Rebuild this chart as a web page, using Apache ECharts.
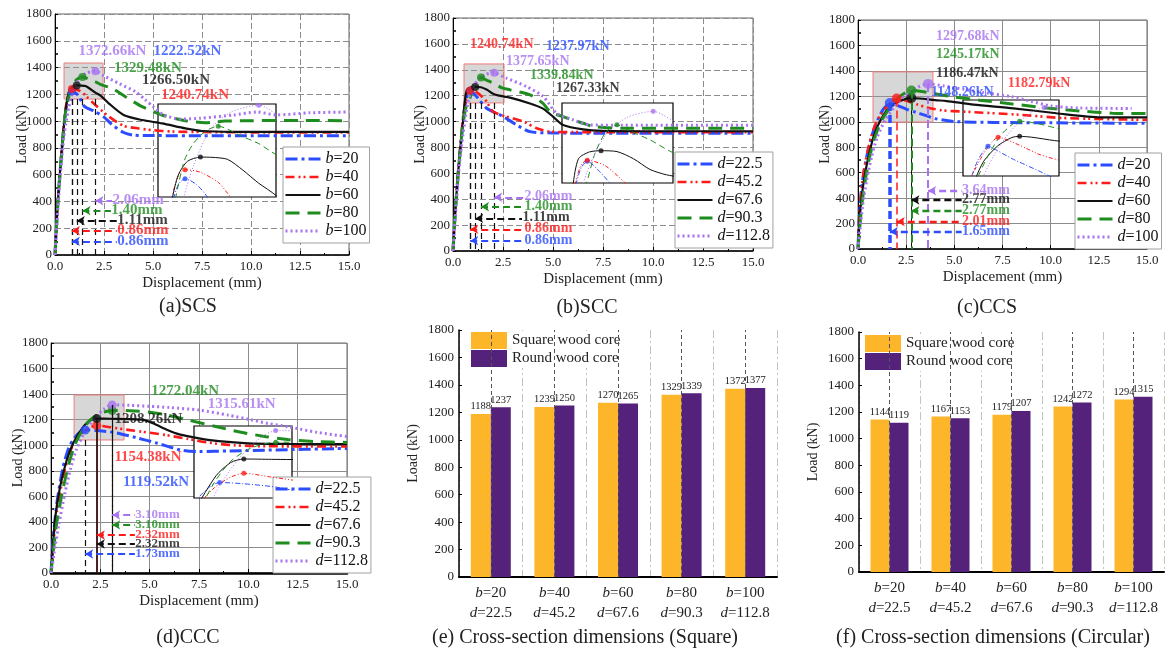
<!DOCTYPE html>
<html>
<head>
<meta charset="utf-8">
<script src="https://cdn.jsdelivr.net/npm/echarts@6/dist/echarts.min.js"></script>
<style>html,body{margin:0;padding:0;background:#fff}#chart{width:1165px;height:651px}</style>
</head>
<body>
<div id="chart"></div>
<script>
// ---------- (a) SCS : load-displacement curves, square steel tube / square core ----------
const namesA = ['b=20', 'b=40', 'b=60', 'b=80', 'b=100'];
const curveA1 = [[0,0],[0.05,150],[0.15,400],[0.25,600],[0.35,780],[0.45,950],[0.55,1080],[0.65,1170],[0.75,1210],[0.86,1222.52],[1.05,1210],[1.22,1185],[1.5,1110],[2.0,1075],[2.5,1030],[2.9,975],[3.5,915],[4.0,895],[5,892],[7.5,891],[10,890],[15,890]];
const curveA2 = [[0,0],[0.05,160],[0.15,420],[0.25,620],[0.35,800],[0.45,970],[0.55,1100],[0.65,1185],[0.75,1228],[0.86,1240.74],[1.1,1236],[1.4,1215],[1.6,1185],[2.06,1120],[2.74,1035],[3.5,965],[4.27,945],[4.95,933],[6,922],[8,918],[10,916],[15,915]];
const curveA3 = [[0,0],[0.05,150],[0.15,410],[0.25,610],[0.35,790],[0.45,960],[0.55,1090],[0.65,1180],[0.75,1230],[0.9,1258],[1.11,1266.50],[1.3,1266],[1.55,1262],[1.8,1240],[2.06,1213],[2.34,1188],[2.74,1133],[3.5,1046],[4.44,1008],[5.46,983],[6.65,946],[7.5,926],[9,920],[15,920]];
const curveA4 = [[0,0],[0.05,140],[0.15,400],[0.25,600],[0.35,780],[0.45,950],[0.55,1080],[0.71,1185],[0.85,1260],[1.0,1295],[1.2,1320],[1.40,1329.48],[1.8,1308],[2.06,1294],[2.34,1272],[2.91,1245],[3.59,1182],[4.44,1108],[5.46,1046],[6.65,1003],[7.67,988],[8.69,1000],[10,1003],[12.5,1005],[15,1003]];
const curveA5 = [[0,0],[0.05,120],[0.15,350],[0.25,560],[0.35,730],[0.45,880],[0.55,980],[0.7,1100],[0.84,1185],[1.0,1250],[1.27,1323],[1.6,1358],[2.06,1372.66],[2.57,1332],[3.25,1282],[4.1,1220],[4.6,1160],[5.0,1110],[5.5,1050],[6.4,1015],[7.4,1021],[9.1,1046],[10.3,1068],[11.3,1046],[13,1062],[15,1068]];
const peaksA = [[0.86,1222.52],[0.86,1240.74],[1.11,1266.50],[1.40,1329.48],[2.06,1372.66]];
const peakTextA = [[5.05,1518],[5.44,1190],[4.47,1299],[3.03,1394],[1.22,1518]];
const arrowYA = [102,181,256,331,405];
const arrowTextXA = [3.2,3.2,3.2,2.9,2.96];

// ---------- (b) SCC ----------
const namesB = ['d=22.5', 'd=45.2', 'd=67.6', 'd=90.3', 'd=112.8'];
const curveB1 = [[0,0],[0.05,150],[0.15,380],[0.25,580],[0.35,760],[0.45,930],[0.55,1070],[0.65,1170],[0.75,1220],[0.86,1237.97],[1.06,1213],[1.27,1177],[1.68,1103],[2.52,1038],[3.18,974],[3.85,922],[5,912],[7.5,910],[10,910],[15,909]];
const curveB2 = [[0,0],[0.05,160],[0.15,400],[0.25,600],[0.35,780],[0.45,950],[0.55,1090],[0.65,1180],[0.75,1228],[0.86,1240.74],[1.19,1225],[1.55,1177],[1.68,1154],[2.0,1077],[2.68,1038],[3.52,1000],[4.18,948],[4.85,922],[6,918],[15,918]];
const curveB3 = [[0,0],[0.05,150],[0.15,390],[0.25,590],[0.35,770],[0.5,1000],[0.6,1170],[0.7,1245],[0.9,1264],[1.11,1267.33],[1.4,1265],[1.7,1245],[2.0,1215],[2.3,1200],[2.85,1185],[3.85,1140],[4.5,1100],[5.0,1038],[5.5,974],[6.5,940],[7.5,928],[10,925],[15,925]];
const curveB4 = [[0,0],[0.05,140],[0.15,380],[0.25,580],[0.35,760],[0.5,980],[0.65,1110],[0.85,1180],[1.0,1260],[1.2,1320],[1.40,1339.84],[1.67,1320],[2.0,1298],[2.42,1262],[2.85,1245],[3.85,1206],[4.5,1141],[4.85,1077],[5.5,1038],[6.5,987],[7.0,962],[8.5,948],[15,948]];
const curveB5 = [[0,0],[0.05,120],[0.15,340],[0.25,540],[0.35,710],[0.5,900],[0.65,1060],[0.79,1177],[1.0,1260],[1.24,1320],[1.6,1362],[2.06,1377.65],[2.42,1352],[2.68,1335],[3.68,1270],[4.52,1192],[5.18,1064],[6.02,1012],[6.85,974],[8,972],[15,972]];
const peaksB = [[0.86,1237.97],[0.86,1240.74],[1.11,1267.33],[1.40,1339.84],[2.06,1377.65]];
const peakTextB = [[4.68,1579],[0.88,1592],[5.18,1250],[3.88,1352],[2.68,1463]];
const arrowYB = [80,168,252,342,415];
const arrowTextXB = [3.6,3.6,3.5,3.6,3.6];

// ---------- (c) CCS ----------
const namesC = ['d=20', 'd=40', 'd=60', 'd=80', 'd=100'];
const curveC1 = [[0,0],[0.05,200],[0.15,420],[0.3,600],[0.5,760],[0.7,880],[0.9,970],[1.1,1040],[1.3,1095],[1.5,1130],[1.65,1148.26],[2.0,1130],[2.5,1100],[3.0,1075],[3.5,1050],[4.0,1025],[5.0,1002],[7,995],[10,992],[15,988]];
const curveC2 = [[0,0],[0.05,200],[0.15,420],[0.3,610],[0.5,770],[0.7,890],[0.9,980],[1.2,1060],[1.5,1120],[1.8,1165],[2.01,1182.79],[2.5,1165],[3.0,1140],[3.5,1115],[4.35,1090],[5.5,1080],[8.4,1055],[10.6,1030],[15,1015]];
const curveC3 = [[0,0],[0.05,150],[0.15,350],[0.25,480],[0.4,620],[0.6,760],[0.8,880],[1.0,960],[1.2,1020],[1.5,1090],[2.0,1150],[2.5,1182],[2.77,1186.47],[3.2,1183],[4.0,1170],[4.6,1163],[6,1135],[8.06,1106],[10.3,1067],[12.6,1035],[15,1035]];
const curveC4 = [[0,0],[0.08,150],[0.2,350],[0.4,560],[0.6,720],[0.8,840],[1.0,930],[1.3,1030],[1.7,1120],[2.1,1190],[2.5,1232],[2.77,1245.17],[3.3,1238],[4,1220],[5,1195],[6.3,1170],[8,1140],[9.8,1108],[11.5,1085],[13.2,1068],[15,1064]];
const curveC5 = [[0,0],[0.1,150],[0.25,350],[0.45,540],[0.7,720],[1.0,880],[1.4,1010],[1.9,1120],[2.4,1200],[3.0,1265],[3.64,1297.68],[4.5,1280],[5.5,1255],[6.5,1230],[8,1197],[9,1160],[10,1125],[11.5,1108],[14.2,1105]];
const peaksC = [[1.65,1148.26],[2.01,1182.79],[2.77,1186.47],[2.77,1245.17],[3.64,1297.68]];
const peakTextC = [[3.82,1224],[7.8,1297],[4.08,1376],[4.08,1525],[4.08,1664]];
const arrowYC = [136,215,385,301,458];
const arrowTextXC = [5.43,5.43,5.43,5.43,5.43];

// ---------- (d) CCC ----------
const namesD = ['d=22.5', 'd=45.2', 'd=67.6', 'd=90.3', 'd=112.8'];
const curveD1 = [[0,0],[0.1,250],[0.3,550],[0.6,820],[0.9,980],[1.2,1060],[1.5,1105],[1.73,1119.52],[2.3,1115],[3.2,1100],[4.3,1060],[5.4,1015],[6.6,962],[7.5,950],[9,955],[11,962],[15,975]];
const curveD2 = [[0,0],[0.1,200],[0.3,480],[0.6,740],[0.9,920],[1.2,1030],[1.6,1100],[2.0,1140],[2.32,1154.38],[3.0,1140],[4.0,1118],[4.6,1106],[5.8,1080],[6.9,1050],[8,1020],[9.2,1000],[11,992],[15,990]];
const curveD3 = [[0,0],[0.05,100],[0.2,415],[0.46,675],[0.8,884],[1.13,1015],[1.64,1145],[2.0,1195],[2.32,1208.26],[3,1207],[4,1205],[4.7,1198],[5.2,1170],[5.9,1119],[6.5,1085],[7.5,1054],[8.5,1032],[10,1015],[12,1010],[15,1008]];
const curveD4 = [[0,0],[0.1,150],[0.3,400],[0.6,650],[0.9,850],[1.2,1000],[1.6,1120],[2.0,1200],[2.5,1250],[3.10,1272.04],[4.0,1270],[5.0,1258],[5.9,1236],[7,1195],[8.4,1145],[9.5,1105],[10.9,1067],[12,1045],[13.5,1028],[15,1022]];
const curveD5 = [[0,0],[0.15,150],[0.4,380],[0.7,620],[1.0,820],[1.3,970],[1.7,1100],[2.2,1210],[2.7,1285],[3.10,1315.61],[4,1312],[5,1305],[6,1295],[7.5,1275],[9,1235],[10.1,1200],[11,1170],[12,1145],[13.5,1100],[15,1068]];
const peaksD = [[1.73,1119.52],[2.32,1154.38],[2.32,1208.26],[3.10,1272.04],[3.10,1315.61]];
const peakTextD = [[3.67,710],[3.24,905],[3.24,1203],[5.1,1419],[7.97,1315]];
const arrowYD = [149,297,227,376,454];
const arrowTextXD = [4.3,4.3,4.3,4.3,4.3];

// ---------- (e)/(f) peak load comparison ----------
const bValues = ['20', '40', '60', '80', '100'];
const dValues = ['22.5', '45.2', '67.6', '90.3', '112.8'];
const squareCoreE = [1188, 1239, 1270, 1329, 1372];
const roundCoreE = [1237, 1250, 1265, 1339, 1377];
const squareCoreF = [1144, 1167, 1179, 1242, 1294];
const roundCoreF = [1119, 1153, 1207, 1272, 1315];

const yTicks = [0, 1800, 200];   // min, max, step of every load axis
const xTicks = [0, 15, 2.5];     // min, max, step of every displacement axis

// ---------- styling ----------
const SERIF = '"Liberation Serif","Times New Roman",serif';
const COLORS = ['#2b4cff', '#ff1a1a', '#111111', '#1f8c1f', '#a873f0'];
const DASH_MAIN = [[12, 4, 3, 4], [9, 4, 2, 3, 2, 4], 'solid', [14, 8], [2, 3]];
const WIDTH_MAIN = [3, 2.6, 2.2, 3, 3];
const DASH_INSET = [[5, 2, 1, 2], [4, 2, 1, 2, 1, 2], 'solid', [6, 4], [1, 2]];
const YELLOW = '#fdb62a';
const PURPLE = '#54217b';

const panels = [
  { names: namesA, curves: [curveA1, curveA2, curveA3, curveA4, curveA5], peaks: peaksA, peakText: peakTextA,
    arrowY: arrowYA, arrowTextX: arrowTextXA, caption: '(a)SCS', capPos: [188, 307],
    grid: { left: 55, top: 14, width: 294, height: 241 }, gridDash: [6, 3],
    inset: { left: 158, top: 104, width: 118, height: 93 }, insetX: [0.42, 2.34], insetY: [1185, 1375],
    shade: [[0.46, 1165], [2.45, 1434]], legend: { left: 283, top: 147 }, markerSize: 8,
    drop: k => ({ from: 1165, color: '#111', width: 1.2, type: [6, 4] }),
    arrowWidth: 2.2, labelSize: 15, arrowLabelSize: 15 },
  { names: namesB, curves: [curveB1, curveB2, curveB3, curveB4, curveB5], peaks: peaksB, peakText: peakTextB,
    arrowY: arrowYB, arrowTextX: arrowTextXB, caption: '(b)SCC', capPos: [587, 308],
    grid: { left: 453, top: 18, width: 300, height: 233 }, gridDash: [6, 3],
    inset: { left: 562, top: 103, width: 111, height: 80 }, insetX: [0.40, 2.42], insetY: [1177, 1401],
    shade: [[0.55, 1144], [2.55, 1445]], legend: { left: 675, top: 152 }, markerSize: 8,
    drop: k => ({ from: 1144, color: '#111', width: 1.2, type: [6, 4] }),
    arrowWidth: 2.2, labelSize: 14, arrowLabelSize: 14 },
  { names: namesC, curves: [curveC1, curveC2, curveC3, curveC4, curveC5], peaks: peaksC, peakText: peakTextC,
    arrowY: arrowYC, arrowTextX: arrowTextXC, caption: '(c)CCS', capPos: [987, 308],
    grid: { left: 858, top: 20, width: 289, height: 229 }, gridDash: 'solid',
    inset: { left: 963, top: 100, width: 96, height: 76 }, insetX: [0.77, 4.16], insetY: [1033, 1327],
    shade: [[0.78, 998], [3.89, 1392]], legend: { left: 1075, top: 153 }, markerSize: 10,
    drop: k => ({ from: null, color: COLORS[k], width: [3.5, 1.5, 1, 2, 2][k], type: [8, 4] }),
    arrowWidth: 2.4, labelSize: 14, arrowLabelSize: 14 },
  { names: namesD, curves: [curveD1, curveD2, curveD3, curveD4, curveD5], peaks: peaksD, peakText: peakTextD,
    arrowY: arrowYD, arrowTextX: arrowTextXD, caption: '(d)CCC', capPos: [188, 638],
    grid: { left: 51, top: 343, width: 296, height: 230 }, gridDash: 'solid',
    inset: { left: 194, top: 426, width: 98, height: 72 }, insetX: [1.1, 3.5], insetY: [1061, 1333],
    shade: [[1.17, 1041], [3.7, 1393]], legend: { left: 273, top: 477 }, markerSize: 9,
    drop: k => [
      { from: 1041, color: '#111', width: 1.2, type: [6, 4] },
      { from: null, color: COLORS[1], width: 1.5, type: 'solid' },
      { from: null, color: '#111', width: 1.5, type: 'solid' },
      { from: null, color: '#111', width: 1.2, type: [6, 4] },
      { from: null, color: '#111', width: 1.2, type: [6, 4] }][k],
    arrowWidth: 1.8, labelSize: 15, arrowLabelSize: 13 }
];

const grids = [], xAxes = [], yAxes = [], series = [], legends = [], graphics = [];

const legendRich = size => ({
  i: { fontFamily: SERIF, fontSize: size, fontStyle: 'italic', color: '#111' },
  n: { fontFamily: SERIF, fontSize: size, color: '#111' }
});
const italicName = n => { const p = n.split('='); return '{i|' + p[0] + '}{n|=' + p[1] + '}'; };

// main curve panels take grids 0..3, their insets 4..7
panels.forEach((p, gi) => {
  const ii = gi + 4;
  grids[gi] = Object.assign({ show: true, borderColor: '#666', borderWidth: 1 }, p.grid);
  grids[ii] = Object.assign({ show: true, backgroundColor: '#ffffff', borderColor: '#000', borderWidth: 1.2, z: 1 }, p.inset);

  xAxes[gi] = {
    gridIndex: gi, type: 'value', min: xTicks[0], max: xTicks[1], interval: xTicks[2],
    name: 'Displacement (mm)', nameLocation: 'middle', nameGap: 21, nameMoveOverlap: false,
    nameTextStyle: { fontFamily: SERIF, fontSize: 15, color: '#222' },
    axisLine: { onZero: false, lineStyle: { color: '#000', width: gi === 3 ? 2.5 : 1.5 } },
    axisTick: { inside: true, length: 4, lineStyle: { color: '#000' } },
    minorTick: { show: true, splitNumber: 2, length: 2, lineStyle: { color: '#000' } },
    axisLabel: { formatter: v => v.toFixed(1), fontFamily: SERIF, fontSize: 13, color: '#222', margin: 5 },
    splitLine: { show: true, lineStyle: { color: '#8c8c8c', width: 1, type: p.gridDash } }
  };
  yAxes[gi] = {
    gridIndex: gi, type: 'value', min: yTicks[0], max: yTicks[1], interval: yTicks[2],
    name: 'Load (kN)', nameLocation: 'middle', nameGap: 26, nameMoveOverlap: false,
    nameTextStyle: { fontFamily: SERIF, fontSize: 14, color: '#222' },
    axisLine: { onZero: false, lineStyle: { color: '#000', width: 1 } },
    axisTick: { inside: true, length: 3, lineStyle: { color: '#000' } },
    minorTick: { show: true, splitNumber: 2, length: 3, lineStyle: { color: '#000', width: 1.5 } },
    axisLabel: { formatter: v => String(v), fontFamily: SERIF, fontSize: 13, color: '#222', margin: 3 },
    splitLine: { show: true, lineStyle: { color: '#8c8c8c', width: 1, type: p.gridDash } }
  };
  xAxes[ii] = { gridIndex: ii, type: 'value', min: p.insetX[0], max: p.insetX[1], show: false };
  yAxes[ii] = { gridIndex: ii, type: 'value', min: p.insetY[0], max: p.insetY[1], show: false };

  // shaded zoom window, drop lines and arrow leaders
  const lines = [];
  p.peaks.forEach((pt, k) => {
    const d = p.drop(k);
    lines.push([
      { coord: [pt[0], d.from === null ? pt[1] : d.from], symbol: 'none', lineStyle: { color: d.color, width: d.width, type: d.type } },
      { coord: [pt[0], 0], symbol: 'none' }
    ]);
  });
  p.peaks.forEach((pt, k) => {
    lines.push([
      { coord: [pt[0], p.arrowY[k]], symbol: 'arrow', symbolSize: [7, 8],
        lineStyle: { color: COLORS[k], width: p.arrowWidth, type: [7, 4] } },
      { coord: [p.arrowTextX[k] - 0.05, p.arrowY[k]], symbol: 'none' }
    ]);
  });
  series.push({
    type: 'line', xAxisIndex: gi, yAxisIndex: gi, data: [], z: 2, silent: true,
    markArea: { silent: true, itemStyle: { color: 'rgba(150,150,150,0.38)', borderColor: '#f07c7c', borderWidth: 1 },
      data: [[{ coord: p.shade[0] }, { coord: p.shade[1] }]] },
    markLine: { silent: true, symbol: ['none', 'none'], label: { show: false }, data: lines }
  });

  p.curves.forEach((data, k) => {
    series.push({
      type: 'line', name: p.names[k], xAxisIndex: gi, yAxisIndex: gi, data, z: 3,
      symbol: 'none', smooth: 0.25,
      lineStyle: { color: COLORS[k], width: WIDTH_MAIN[k], type: DASH_MAIN[k] },
      itemStyle: { color: COLORS[k] }
    });
  });
  p.curves.forEach((data, k) => {
    series.push({
      type: 'line', xAxisIndex: ii, yAxisIndex: ii, data, z: 5, silent: true,
      symbol: 'none', smooth: 0.25,
      lineStyle: { color: COLORS[k], width: 1, type: DASH_INSET[k] }
    });
  });

  const markerData = p.peaks.map((pt, k) => ({ value: pt, itemStyle: { color: COLORS[k] } }));
  series.push({ type: 'scatter', xAxisIndex: gi, yAxisIndex: gi, z: 4, silent: true, symbolSize: p.markerSize, data: markerData });
  series.push({ type: 'scatter', xAxisIndex: ii, yAxisIndex: ii, z: 6, silent: true, symbolSize: 5, data: markerData });

  // peak load labels
  series.push({
    type: 'scatter', xAxisIndex: gi, yAxisIndex: gi, z: 8, silent: true, symbolSize: 1,
    itemStyle: { color: 'transparent' },
    label: { show: true, position: [0, 0], align: 'left', verticalAlign: 'middle',
      fontFamily: SERIF, fontWeight: 'bold', fontSize: p.labelSize },
    data: p.peaks.map((pt, k) => ({ value: p.peakText[k],
      label: { formatter: pt[1].toFixed(2) + 'kN', color: COLORS[k] } }))
  });
  // peak displacement labels
  series.push({
    type: 'scatter', xAxisIndex: gi, yAxisIndex: gi, z: 8, silent: true, symbolSize: 1,
    itemStyle: { color: 'transparent' },
    label: { show: true, position: [0, 0], align: 'left', verticalAlign: 'middle',
      fontFamily: SERIF, fontWeight: 'bold', fontSize: p.arrowLabelSize },
    data: p.peaks.map((pt, k) => ({ value: [p.arrowTextX[k], p.arrowY[k]],
      label: { formatter: pt[0].toFixed(2) + 'mm', color: COLORS[k] } }))
  });

  legends.push({
    data: p.names, orient: 'vertical', left: p.legend.left, top: p.legend.top,
    backgroundColor: '#ffffff', borderColor: '#a0a0a0', borderWidth: 1, padding: [4, 3, 4, 1],
    itemWidth: 35, itemHeight: 10, itemGap: 2, selectedMode: false,
    itemStyle: { opacity: 0 },
    lineStyle: { width: 'inherit' },
    formatter: italicName,
    textStyle: { fontFamily: SERIF, fontSize: 16, color: '#111', rich: legendRich(16) }
  });
  graphics.push({ type: 'text', x: p.capPos[0], y: p.capPos[1],
    style: { text: p.caption, font: '20px ' + SERIF, fill: '#222', textAlign: 'center', textVerticalAlign: 'middle' } });
});

// bar panels (e) and (f) on grids 8 and 9
const barPanels = [
  { square: squareCoreE, round: roundCoreE, grid: { left: 459, top: 330, width: 318, height: 247 },
    legend: { left: 470, top: 331 }, caption: '(e) Cross-section dimensions (Square)', capPos: [585, 638], barWidth: 20 },
  { square: squareCoreF, round: roundCoreF, grid: { left: 859, top: 332, width: 305, height: 240 },
    legend: { left: 864, top: 334 }, caption: '(f) Cross-section dimensions (Circular)', capPos: [993, 638], barWidth: 19 }
];
const categories = bValues.map((b, i) => 'b=' + b + '|d=' + dValues[i]);

barPanels.forEach((bp, j) => {
  const gi = 8 + j;
  grids[gi] = Object.assign({ show: false }, bp.grid);
  xAxes[gi] = {
    gridIndex: gi, type: 'category', data: categories,
    axisLine: { lineStyle: { color: '#000', width: 2 } },
    axisTick: { show: false },
    axisLabel: {
      interval: 0, margin: 6, lineHeight: 20,
      formatter: v => { const s = v.split('|').map(t => t.split('=')); return '{i|' + s[0][0] + '}{n|=' + s[0][1] + '}\n{i|' + s[1][0] + '}{n|=' + s[1][1] + '}'; },
      rich: { i: { fontFamily: SERIF, fontSize: 15, fontStyle: 'italic', color: '#222', lineHeight: 20 },
              n: { fontFamily: SERIF, fontSize: 15, color: '#222', lineHeight: 20 } }
    },
    splitLine: { show: true, interval: 0, lineStyle: { color: '#c4c4c4', width: 1, type: [8, 3, 2, 3] } }
  };
  yAxes[gi] = {
    gridIndex: gi, type: 'value', min: yTicks[0], max: yTicks[1], interval: yTicks[2],
    name: 'Load (kN)', nameLocation: 'middle', nameGap: 39, nameMoveOverlap: false,
    nameTextStyle: { fontFamily: SERIF, fontSize: 14, color: '#222' },
    axisLine: { show: true, lineStyle: { color: '#000', width: 1.5 } },
    axisTick: { show: true, inside: true, length: 3, lineStyle: { color: '#000' } },
    axisLabel: { formatter: v => String(v), fontFamily: SERIF, fontSize: 13, color: '#222', margin: 5 },
    splitLine: { show: false }
  };
  // dashed centre guides behind each bar pair
  series.push({
    type: 'line', xAxisIndex: gi, yAxisIndex: gi, data: [], z: 1, silent: true,
    markLine: { silent: true, symbol: ['none', 'none'], label: { show: false },
      lineStyle: { color: '#555', width: 1, type: [4, 3] },
      data: categories.map(c => ({ xAxis: c })) }
  });
  const barLabel = { show: true, position: 'top', distance: 2, fontFamily: SERIF, fontSize: 10.5, color: '#222' };
  series.push({ type: 'bar', name: 'Square wood core', xAxisIndex: gi, yAxisIndex: gi, data: bp.square,
    barWidth: bp.barWidth, barGap: '0%', z: 3, itemStyle: { color: YELLOW }, label: barLabel });
  series.push({ type: 'bar', name: 'Round wood core', xAxisIndex: gi, yAxisIndex: gi, data: bp.round,
    barWidth: bp.barWidth, barGap: '0%', z: 3, itemStyle: { color: PURPLE }, label: barLabel });
  legends.push({
    data: ['Square wood core', 'Round wood core'], orient: 'vertical', left: bp.legend.left, top: bp.legend.top,
    backgroundColor: '#ffffff', padding: [1, 2, 1, 1], icon: 'rect', itemWidth: 36, itemHeight: 17, itemGap: 1,
    selectedMode: false, textStyle: { fontFamily: SERIF, fontSize: 15, color: '#222' }
  });
  graphics.push({ type: 'text', x: bp.capPos[0], y: bp.capPos[1],
    style: { text: bp.caption, font: '20px ' + SERIF, fill: '#222', textAlign: 'center', textVerticalAlign: 'middle' } });
});

const chart = echarts.init(document.getElementById('chart'), null, { renderer: 'canvas' });
chart.setOption({
  animation: false,
  backgroundColor: '#ffffff',
  grid: grids, xAxis: xAxes, yAxis: yAxes,
  legend: legends, series, graphic: graphics
});
</script>
</body>
</html>
